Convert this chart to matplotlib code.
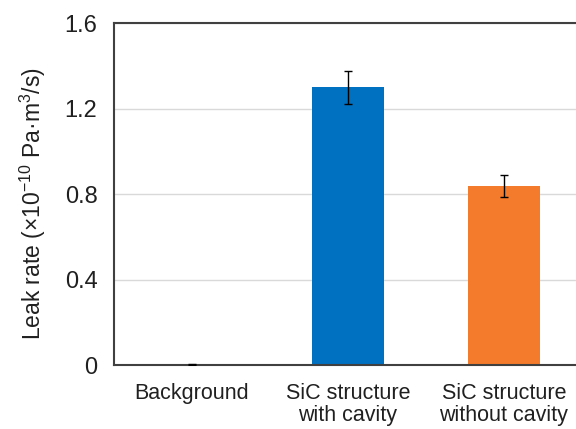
import matplotlib
matplotlib.use('Agg')
import matplotlib.pyplot as plt

categories = ['Background', 'SiC structure\nwith cavity', 'SiC structure\nwithout cavity']
leak_rate = [0.004, 1.30, 0.838]
err_low = [0.002, 0.078, 0.052]
err_high = [0.002, 0.077, 0.052]
colors = ['#bfbfbf', '#0070C0', '#F47B2B']

plt.rcParams['font.family'] = ['Liberation Sans', 'DejaVu Sans']
plt.rcParams['mathtext.fontset'] = 'custom'
plt.rcParams['mathtext.rm'] = 'Liberation Sans'
plt.rcParams['mathtext.it'] = 'Liberation Sans'

fig = plt.figure(figsize=(5.76, 4.29), dpi=100)
ax = fig.add_axes([0.198, 0.149, 0.812, 0.797])

x = range(len(categories))
ax.bar(x, leak_rate, width=0.46, color=colors, zorder=2)
ax.errorbar(x, leak_rate, yerr=[err_low, err_high], fmt='none', ecolor='black',
            elinewidth=1.0, capsize=3.2, capthick=1.0, zorder=3)

ax.set_xlim(-0.5, 2.5)
ax.set_ylim(0, 1.6)
ax.set_yticks([0, 0.4, 0.8, 1.2, 1.6])
ax.set_yticklabels(['0', '0.4', '0.8', '1.2', '1.6'])
ax.set_xticks(list(x))
ax.set_xticklabels(categories, fontsize=15.5, linespacing=1.05)
ax.tick_params(axis='y', length=0, pad=12, labelsize=17, colors='#202020')
ax.tick_params(axis='x', length=0, pad=13, colors='#202020')
ax.grid(axis='y', color='#d9d9d9', linewidth=1.0, zorder=0)
ax.set_axisbelow(True)

for side in ['left', 'top', 'bottom']:
    ax.spines[side].set_color('#404040')
    ax.spines[side].set_linewidth(1.5)
ax.spines['right'].set_visible(False)

ax.set_ylabel('Leak rate (×10$^{-10}$ Pa·m$^3$/s)', fontsize=16.5, color='#202020')
ax.yaxis.set_label_coords(-0.141, 0.472)

fig.savefig('out.png', dpi=100)
